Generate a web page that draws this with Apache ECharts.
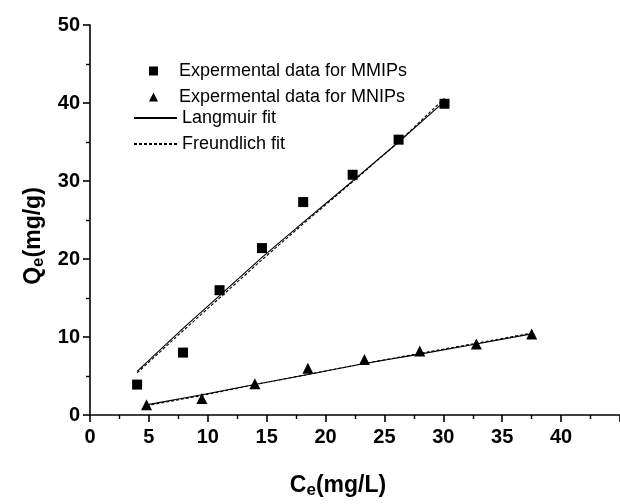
<!DOCTYPE html>
<html>
<head>
<meta charset="utf-8">
<script src="https://cdn.jsdelivr.net/npm/echarts@6/dist/echarts.min.js"></script>
<style>
  html,body{margin:0;padding:0;background:#fff;}
  #chart{width:620px;height:504px;}
</style>
</head>
<body>
<div id="chart"></div>
<script>
  // C_e (mg/L) and Q_e (mg/g)
  var mmipX = [4.0, 7.9, 11.0, 14.6, 18.1, 22.3, 26.2, 30.1]
  var mmipY = [3.9, 8.0, 16.0, 21.4, 27.3, 30.8, 35.3, 39.9]
  var mnipX = [4.8, 9.5, 14.0, 18.5, 23.3, 28.0, 32.8, 37.5]
  var mnipY = [1.3, 2.1, 4.0, 6.0, 7.1, 8.2, 9.1, 10.4]

  // fitted curves, evaluated at the same C_e
  var langMmip = [5.6, 11.1, 15.3, 20.2, 24.7, 30.0, 35.0, 40.2]
  var freMmip = [5.4, 10.8, 15.0, 19.9, 24.5, 29.9, 35.0, 40.6]
  var langMnip = [1.3, 2.6, 3.9, 5.2, 6.6, 7.8, 9.1, 10.4]
  var freMnip = [1.2, 2.5, 3.9, 5.2, 6.6, 7.9, 9.2, 10.5]

  var xTicks = [0, 5, 10, 15, 20, 25, 30, 35, 40]
  var yTicks = [0, 10, 20, 30, 40, 50]

  var pairs = function (xs, ys) {
    return xs.map(function (x, i) { return [x, ys[i]] })
  }

  var font = 'Arial, "Liberation Sans", sans-serif'
  var titleRich = {
    b: {fontFamily: font, fontWeight: 'bold', fontSize: 23, lineHeight: 26, color: '#000'},
    s: {fontFamily: font, fontWeight: 'bold', fontSize: 17, lineHeight: 13, verticalAlign: 'bottom', color: '#000'}
  }
  var axisLine = {lineStyle: {color: '#000', width: 1.6}}
  var legendText = {fontFamily: font, fontSize: 18, lineHeight: 16, color: '#000'}

  var chart = echarts.init(document.getElementById('chart'))
  var option = {
    animation: false,
    backgroundColor: '#fff',
    grid: {left: 90, top: 25, width: 570, height: 398},
    legend: [{
      left: 144, top: 57, orient: 'vertical',
      itemWidth: 9, itemHeight: 9, itemGap: 8,
      textStyle: Object.assign({padding: [0, 0, 0, 16]}, legendText),
      data: ['Expermental data for MMIPs', 'Expermental data for MNIPs']
    }, {
      left: 128, top: 104, orient: 'vertical',
      itemWidth: 43, itemHeight: 14, itemGap: 8,
      itemStyle: {opacity: 0},
      textStyle: legendText,
      data: ['Langmuir fit', 'Freundlich fit']
    }],
    xAxis: {
      type: 'value', min: 0, max: 45, interval: 5,
      name: '{b|C}{s|e}{b|(mg/L)}',
      nameLocation: 'middle', nameGap: 58,
      nameTextStyle: {rich: titleRich, padding: [0, 34, 0, 0]},
      axisLine: axisLine,
      axisTick: {length: 7, lineStyle: {color: '#000', width: 1.6}},
      minorTick: {show: true, splitNumber: 2, length: 4, lineStyle: {color: '#000', width: 1.4}},
      splitLine: {show: false},
      axisLabel: {
        margin: 12, color: '#000', fontFamily: font, fontWeight: 'bold', fontSize: 20,
        showMaxLabel: false,
        formatter: function (v) { return xTicks.indexOf(v) >= 0 ? v : '' }
      }
    },
    yAxis: {
      type: 'value', min: 0, max: 50, interval: 10,
      name: '{b|Q}{s|e}{b|(mg/g)}',
      nameLocation: 'middle', nameGap: 36,
      nameTextStyle: {rich: titleRich, padding: [0, 32, 0, 0]},
      axisLine: axisLine,
      axisTick: {length: 7, lineStyle: {color: '#000', width: 1.6}},
      minorTick: {show: true, splitNumber: 2, length: 4, lineStyle: {color: '#000', width: 1.4}},
      splitLine: {show: false},
      axisLabel: {
        margin: 10, color: '#000', fontFamily: font, fontWeight: 'bold', fontSize: 20,
        formatter: function (v) { return yTicks.indexOf(v) >= 0 ? v : '' }
      }
    },
    series: [{
      name: 'Langmuir fit', type: 'line', symbol: 'none', z: 2,
      lineStyle: {color: '#000', width: 1.1},
      itemStyle: {color: '#000'},
      data: pairs(mmipX, langMmip)
    }, {
      name: 'Langmuir fit', type: 'line', symbol: 'none', z: 2,
      lineStyle: {color: '#000', width: 1.1},
      itemStyle: {color: '#000'},
      data: pairs(mnipX, langMnip)
    }, {
      name: 'Freundlich fit', type: 'line', symbol: 'none', z: 2,
      lineStyle: {color: '#000', width: 1.1, type: [3, 2]},
      itemStyle: {color: '#000'},
      data: pairs(mmipX, freMmip)
    }, {
      name: 'Freundlich fit', type: 'line', symbol: 'none', z: 2,
      lineStyle: {color: '#000', width: 1.1, type: [3, 2]},
      itemStyle: {color: '#000'},
      data: pairs(mnipX, freMnip)
    }, {
      name: 'Expermental data for MMIPs', type: 'scatter', symbol: 'rect', symbolSize: 10, z: 3,
      itemStyle: {color: '#000', opacity: 1},
      data: pairs(mmipX, mmipY)
    }, {
      name: 'Expermental data for MNIPs', type: 'scatter', symbol: 'triangle', symbolSize: 11, z: 3,
      itemStyle: {color: '#000', opacity: 1},
      data: pairs(mnipX, mnipY)
    }]
  }
  chart.setOption(option)
</script>
</body>
</html>
